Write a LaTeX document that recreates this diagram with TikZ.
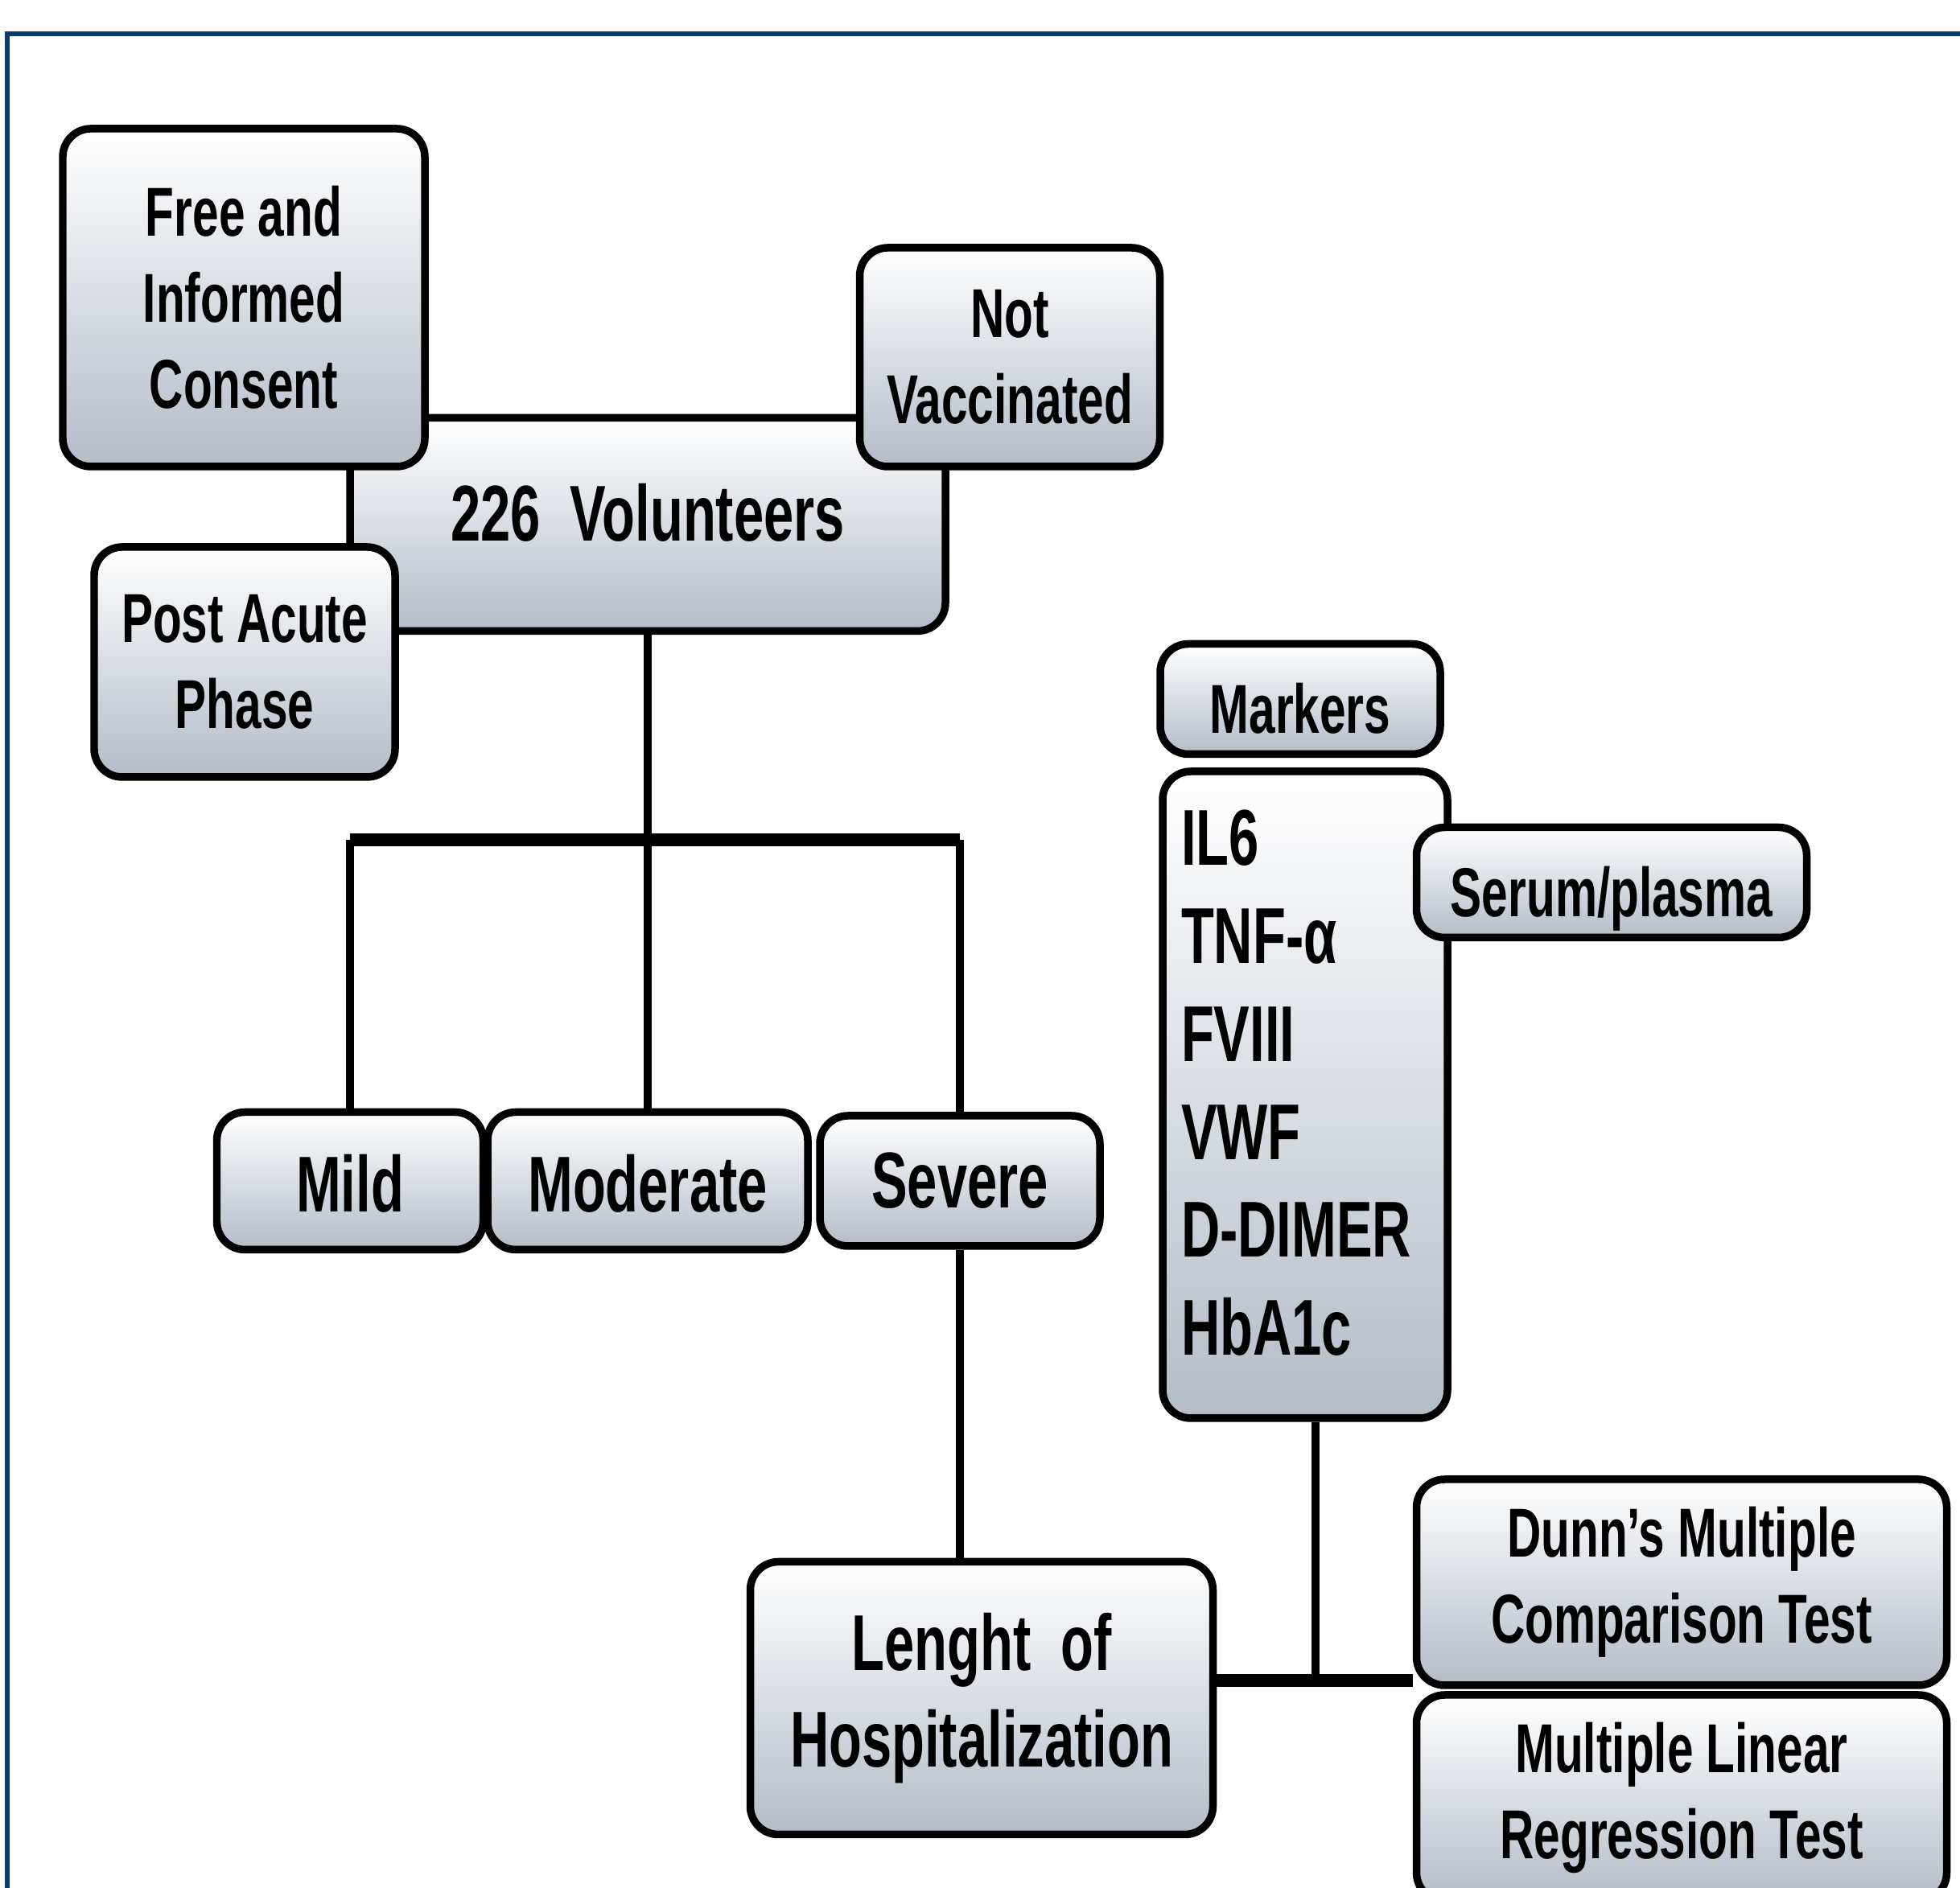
\documentclass[tikz,border=0pt]{standalone}
\usepackage{fontspec}
\setmainfont{Liberation Sans}[FakeStretch=0.68]
\usetikzlibrary{positioning}
\definecolor{frameblue}{RGB}{14,58,108}
\definecolor{boxgray}{RGB}{180,188,200}

\begin{document}
\begin{tikzpicture}[
  box/.style={draw, line width=2.7pt, rounded corners=0.35cm, top color=white, bottom color=boxgray, align=center, inner sep=0pt, font=\bfseries\fontsize{24.5}{30.5}\selectfont},
  bigbox/.style={box, font=\bfseries\fontsize{28}{34}\selectfont},
  lowtext/.style={text height=24pt, text depth=0pt},
  link/.style={line width=2.8pt},
  bar/.style={line width=4.3pt}
]
  \useasboundingbox (0,0) rectangle (24.36,23.47);
  \clip (0,0) rectangle (24.36,23.47);
  \draw[frameblue, line width=1.8pt] (0.09,-1) |- (25,23.05);

  \node[bigbox, text height=20.5pt, text depth=9pt, minimum width=7.4cm, minimum height=2.65cm] (vol) at (8.05,16.95){226\ \ Volunteers};
  \node[box, minimum width=4.5cm, minimum height=4.2cm] (consent) at (3.03,19.77){Free and\\Informed\\Consent};
  \node[box, minimum width=3.74cm, minimum height=2.86cm] (acute) at (3.04,15.24){Post Acute\\Phase};
  \node[box, minimum width=3.73cm, minimum height=2.72cm] (novac) at (12.55,19.03){Not\\Vaccinated};

  \node[bigbox, lowtext, text height=22pt, minimum width=3.31cm, minimum height=1.71cm] (mild) at (4.35,8.79){Mild};
  \node[bigbox, lowtext, text height=22pt, minimum width=3.98cm, minimum height=1.71cm] (moderate) at (8.05,8.79){Moderate};
  \node[bigbox, minimum width=3.48cm, minimum height=1.62cm] (severe) at (11.93,8.79){Severe};
  \node[bigbox, minimum width=5.75cm, minimum height=3.39cm] (length) at (12.2,2.36){Lenght\ \ of\\Hospitalization};

  \node[box, lowtext, minimum width=3.48cm, minimum height=1.37cm] (markers) at (16.16,14.78){Markers};
  \node[bigbox, align=left, text width=3.08cm, inner xsep=0.23cm, minimum height=8.04cm, font=\bfseries\fontsize{28}{34.7}\selectfont] (list) at (16.22,9.86){IL6\\TNF-α\\FVIII\\VWF\\D-DIMER\\HbA1c\\[-26pt]\mbox{}};
  \node[box, lowtext, minimum width=4.85cm, minimum height=1.37cm] (serum) at (20.03,12.5){Serum/plasma};

  \node[box, minimum width=6.59cm, minimum height=2.56cm] (dunn) at (20.9,3.8){Dunn's Multiple\\Comparison Test};
  \node[box, minimum width=6.59cm, minimum height=2.56cm] (linear) at (20.9,1.12){Multiple Linear\\Regression Test};

  \coordinate (split) at (8.05,13.03);
  \coordinate (join) at (16.35,2.58);
  \draw[link] (vol.south) -- (moderate.north);
  \draw[bar] (mild.north |- split) -- (severe.north |- split);
  \draw[link] (mild.north |- split) -- (mild.north);
  \draw[link] (severe.north |- split) -- (severe.north);
  \draw[link] (severe.south) -- (severe.south |- length.north);
  \draw[link] (list.south -| join) -- (join);
  \draw[bar] (length.east |- join) -- (dunn.west |- join);
\end{tikzpicture}
\end{document}
